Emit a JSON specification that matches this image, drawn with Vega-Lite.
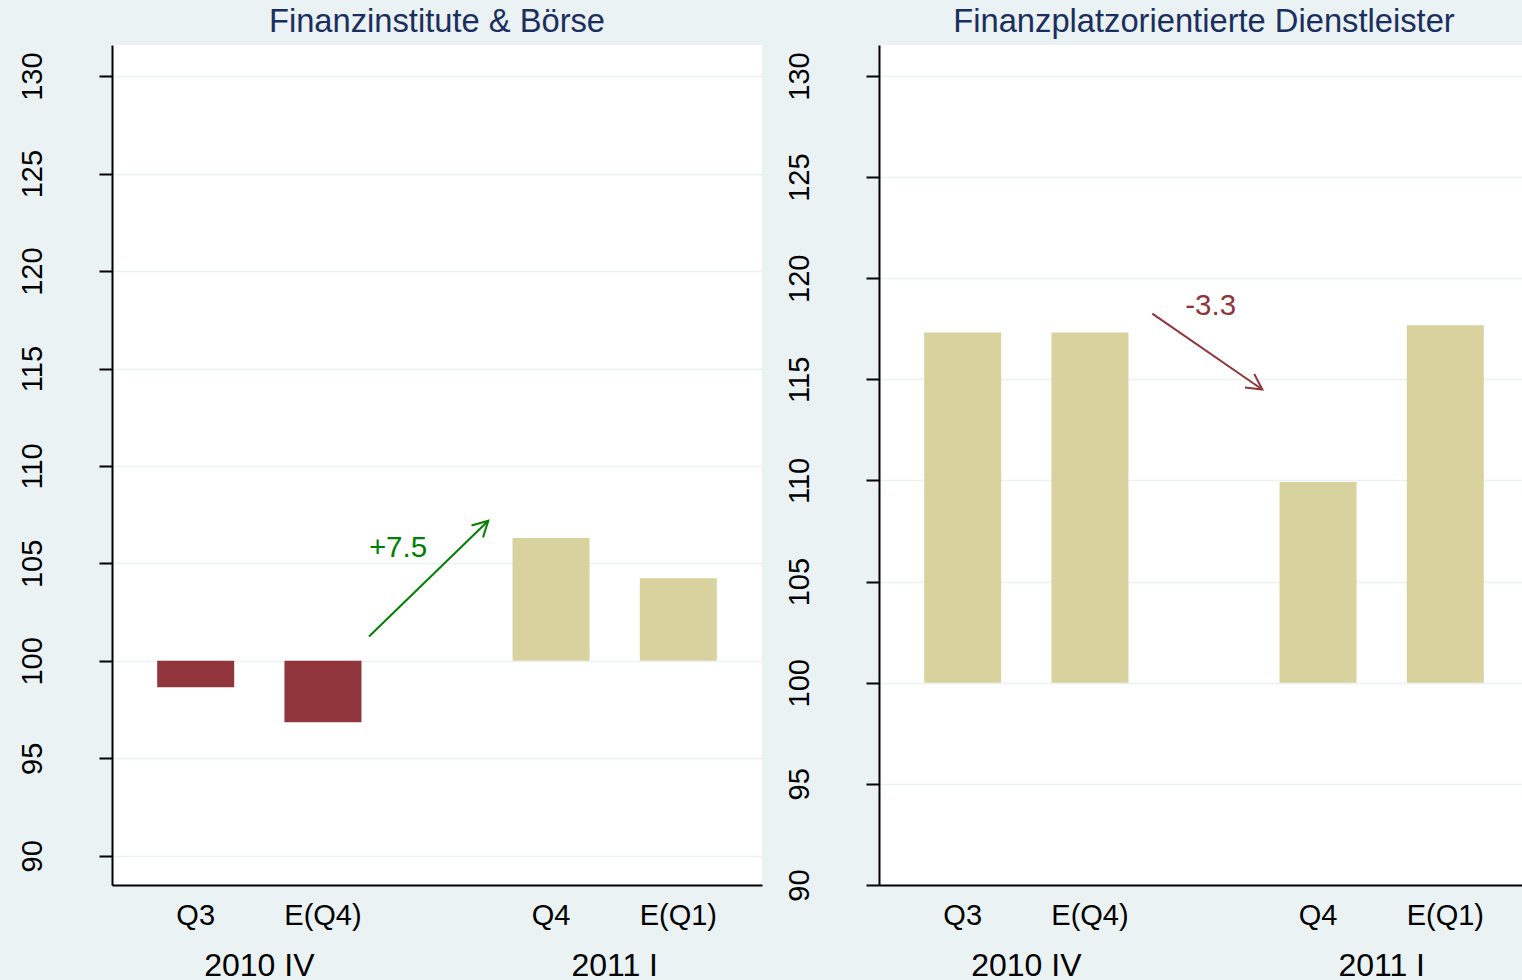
{
  "$schema": "https://vega.github.io/schema/vega-lite/v6.json",
  "background": "#EAF2F3",
  "padding": {"left": 17, "top": 6, "right": 0, "bottom": 0},
  "spacing": 23,
  "datasets": {
    "fin": [
      {"periode": "2010 IV", "quartal": "Q3", "art": "Ist", "wert": 98.65},
      {"periode": "2010 IV", "quartal": "E(Q4)", "art": "Erwartung", "wert": 96.85},
      {"periode": "2011 I", "quartal": "Q4", "art": "Ist", "wert": 106.31},
      {"periode": "2011 I", "quartal": "E(Q1)", "art": "Erwartung", "wert": 104.24}
    ],
    "dienst": [
      {"periode": "2010 IV", "quartal": "Q3", "art": "Ist", "wert": 117.31},
      {"periode": "2010 IV", "quartal": "E(Q4)", "art": "Erwartung", "wert": 117.31},
      {"periode": "2011 I", "quartal": "Q4", "art": "Ist", "wert": 109.93},
      {"periode": "2011 I", "quartal": "E(Q1)", "art": "Erwartung", "wert": 117.67}
    ]
  },
  "hconcat": [
    {
      "title": {"text": "Finanzinstitute & Börse", "fontSize": 32.7, "font": "Liberation Sans", "fontWeight": "normal", "color": "#1A2F5E", "anchor": "middle", "frame": "group", "baseline": "alphabetic", "offset": -20},
      "width": 650,
      "height": 840,
      "data": {"name": "fin"},
      "layer": [
        {
          "layer": [
            {
              "mark": {"type": "bar", "cornerRadius": 0},
              "encoding": {
                "x": {"field": "periode", "type": "nominal", "sort": ["2010 IV", "2011 I"], "title": null,
                      "scale": {"paddingInner": 0.4252, "paddingOuter": 0.1272},
                      "axis": {"labelAngle": 0, "ticks": false, "tickSize": 0, "labelFontSize": 32, "labelBaseline": "alphabetic", "labelPadding": 90, "grid": false}},
                "xOffset": {"field": "art", "type": "nominal", "sort": ["Ist", "Erwartung"], "scale": {"paddingInner": 0.395, "paddingOuter": 0}},
                "y": {"field": "wert", "type": "quantitative", "title": null,
                      "scale": {"domain": [88.5, 131.6], "nice": false, "zero": false},
                      "axis": {"values": [90, 95, 100, 105, 110, 115, 120, 125, 130], "grid": true}},
                "y2": {"datum": 100},
                "color": {"condition": {"test": "datum.wert < 100", "value": "#90353B"}, "value": "#D7D29E"}
              }
            },
            {
              "mark": {"type": "text", "fontSize": 29, "font": "Liberation Sans", "baseline": "alphabetic", "align": "center", "color": "#000000"},
              "encoding": {
                "x": {"field": "periode", "type": "nominal", "sort": ["2010 IV", "2011 I"], "title": null},
                "xOffset": {"field": "art", "type": "nominal", "sort": ["Ist", "Erwartung"]},
                "y": {"datum": 86.43, "type": "quantitative", "title": null, "scale": {"domain": [88.5, 131.6], "nice": false, "zero": false}},
                "text": {"field": "quartal"}
              }
            }
          ]
        },
        {
          "data": {"values": [{}]},
          "layer": [
            {
              "mark": {"type": "rule", "color": "#008000", "strokeWidth": 2},
              "encoding": {
                "x": {"datum": 39.54, "type": "quantitative", "axis": null, "scale": {"domain": [0, 100], "nice": false, "zero": false}},
                "x2": {"datum": 57.89},
                "y": {"datum": 101.25, "type": "quantitative", "title": null, "scale": {"domain": [88.5, 131.6], "nice": false, "zero": false}},
                "y2": {"datum": 107.19}
              }
            },
            {
              "mark": {"type": "point", "shape": "M-0.47,0.88L0,0L0.47,0.88", "size": 1225, "filled": false, "color": "#008000", "strokeWidth": 2, "angle": 45.8, "opacity": 1},
              "encoding": {
                "x": {"datum": 57.89, "type": "quantitative", "axis": null, "scale": {"domain": [0, 100], "nice": false, "zero": false}},
                "y": {"datum": 107.19, "type": "quantitative", "title": null, "scale": {"domain": [88.5, 131.6], "nice": false, "zero": false}}
              }
            },
            {
              "mark": {"type": "text", "fontSize": 29.5, "font": "Liberation Sans", "baseline": "alphabetic", "align": "center", "color": "#008000"},
              "encoding": {
                "x": {"datum": 44.0, "type": "quantitative", "axis": null, "scale": {"domain": [0, 100], "nice": false, "zero": false}},
                "y": {"datum": 105.31, "type": "quantitative", "title": null, "scale": {"domain": [88.5, 131.6], "nice": false, "zero": false}},
                "text": {"value": "+7.5"}
              }
            }
          ]
        }
      ],
      "resolve": {"scale": {"x": "independent"}, "axis": {"x": "independent"}}
    },
    {
      "title": {"text": "Finanzplatzorientierte Dienstleister", "fontSize": 32.7, "font": "Liberation Sans", "fontWeight": "normal", "color": "#1A2F5E", "anchor": "middle", "frame": "group", "baseline": "alphabetic", "offset": -20},
      "width": 650,
      "height": 840,
      "data": {"name": "dienst"},
      "layer": [
        {
          "layer": [
            {
              "mark": {"type": "bar", "cornerRadius": 0},
              "encoding": {
                "x": {"field": "periode", "type": "nominal", "sort": ["2010 IV", "2011 I"], "title": null,
                      "scale": {"paddingInner": 0.4252, "paddingOuter": 0.1272},
                      "axis": {"labelAngle": 0, "ticks": false, "tickSize": 0, "labelFontSize": 32, "labelBaseline": "alphabetic", "labelPadding": 90, "grid": false}},
                "xOffset": {"field": "art", "type": "nominal", "sort": ["Ist", "Erwartung"], "scale": {"paddingInner": 0.395, "paddingOuter": 0}},
                "y": {"field": "wert", "type": "quantitative", "title": null,
                      "scale": {"domain": [90, 131.53], "nice": false, "zero": false},
                      "axis": {"values": [90, 95, 100, 105, 110, 115, 120, 125, 130], "grid": true}},
                "y2": {"datum": 100},
                "color": {"condition": {"test": "datum.wert < 100", "value": "#90353B"}, "value": "#D7D29E"}
              }
            },
            {
              "mark": {"type": "text", "fontSize": 29, "font": "Liberation Sans", "baseline": "alphabetic", "align": "center", "color": "#000000"},
              "encoding": {
                "x": {"field": "periode", "type": "nominal", "sort": ["2010 IV", "2011 I"], "title": null},
                "xOffset": {"field": "art", "type": "nominal", "sort": ["Ist", "Erwartung"]},
                "y": {"datum": 88.03, "type": "quantitative", "title": null, "scale": {"domain": [90, 131.53], "nice": false, "zero": false}},
                "text": {"field": "quartal"}
              }
            }
          ]
        },
        {
          "data": {"values": [{}]},
          "layer": [
            {
              "mark": {"type": "rule", "color": "#90353B", "strokeWidth": 2},
              "encoding": {
                "x": {"datum": 42.05, "type": "quantitative", "axis": null, "scale": {"domain": [0, 100], "nice": false, "zero": false}},
                "x2": {"datum": 58.97},
                "y": {"datum": 118.25, "type": "quantitative", "title": null, "scale": {"domain": [90, 131.53], "nice": false, "zero": false}},
                "y2": {"datum": 114.5}
              }
            },
            {
              "mark": {"type": "point", "shape": "M-0.47,0.88L0,0L0.47,0.88", "size": 1225, "filled": false, "color": "#90353B", "strokeWidth": 2, "angle": 124.6, "opacity": 1},
              "encoding": {
                "x": {"datum": 58.97, "type": "quantitative", "axis": null, "scale": {"domain": [0, 100], "nice": false, "zero": false}},
                "y": {"datum": 114.5, "type": "quantitative", "title": null, "scale": {"domain": [90, 131.53], "nice": false, "zero": false}}
              }
            },
            {
              "mark": {"type": "text", "fontSize": 29.5, "font": "Liberation Sans", "baseline": "alphabetic", "align": "center", "color": "#90353B"},
              "encoding": {
                "x": {"datum": 51.03, "type": "quantitative", "axis": null, "scale": {"domain": [0, 100], "nice": false, "zero": false}},
                "y": {"datum": 118.17, "type": "quantitative", "title": null, "scale": {"domain": [90, 131.53], "nice": false, "zero": false}},
                "text": {"value": "-3.3"}
              }
            }
          ]
        }
      ],
      "resolve": {"scale": {"x": "independent"}, "axis": {"x": "independent"}}
    }
  ],
  "config": {
    "view": {"stroke": null, "fill": "#FFFFFF"},
    "axis": {
      "domainColor": "#000000", "domainWidth": 2,
      "tickColor": "#000000", "tickWidth": 2,
      "labelFont": "Liberation Sans", "labelColor": "#000000",
      "gridColor": "#EAF2F3", "gridWidth": 1.5
    },
    "axisY": {
      "tickSize": 13, "labelAngle": -90, "labelAlign": "center", "labelBaseline": "alphabetic",
      "labelPadding": 58, "labelFontSize": 29
    }
  }
}
